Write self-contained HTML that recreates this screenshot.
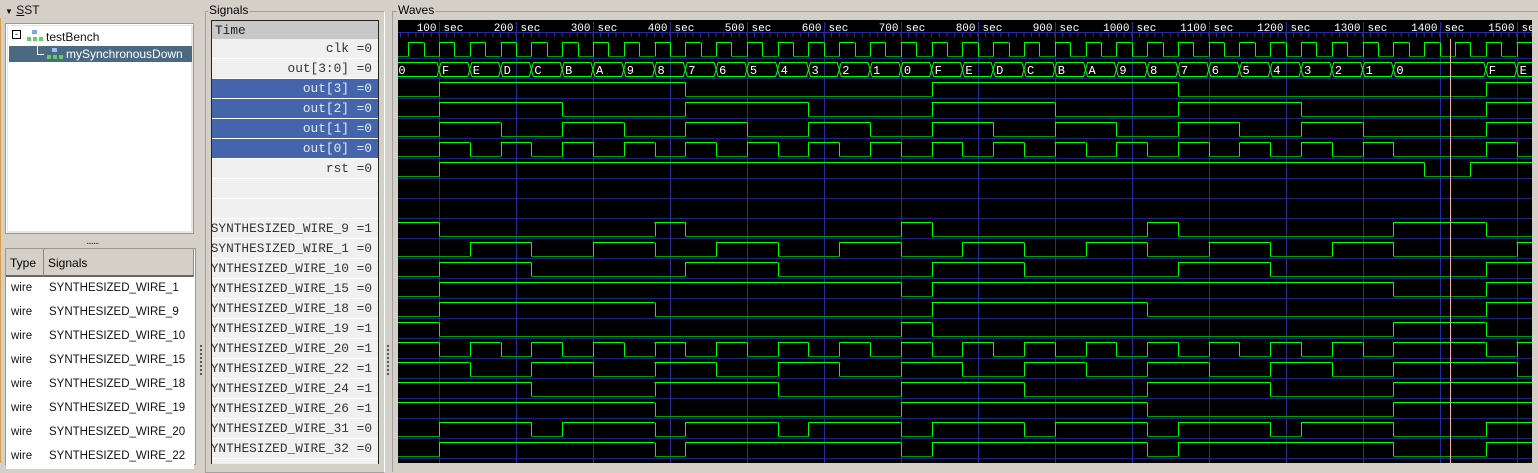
<!DOCTYPE html>
<html><head><meta charset="utf-8"><style>
body{margin:0;width:1538px;height:463px;overflow:hidden;background:#d4d0c8;position:relative;font-family:"Liberation Sans",sans-serif;}
.abs{position:absolute;}
.mono{font-family:"Liberation Mono",monospace;}
.sigrow{position:absolute;left:212px;width:166px;height:19px;background:#f0f0f0;border-bottom:1px solid #fff;overflow:hidden;}
.sigrow span{position:absolute;right:6px;top:2px;white-space:nowrap;font-family:"Liberation Mono",monospace;font-size:12.8px;color:#333;}
.sel{background:#4464ac;}
.sel span{color:#e4ecfa;}
.trow{position:absolute;left:6px;width:188px;height:24px;background:#fff;font-size:11.5px;color:#111;}
.trow .t{position:absolute;left:5px;top:5px;}
.trow .n{position:absolute;left:43px;top:5px;}
</style></head><body>
<div class="abs" style="left:0;top:18px;width:1px;height:445px;background:#d4a050"></div>
<div class="abs" style="left:5px;top:3px;font-size:12px;color:#111"><span style="font-size:8px">&#9660;</span>&nbsp;<u>S</u>ST</div>
<div class="abs" style="left:5px;top:23px;width:187px;height:209px;background:#fff;border:1px solid #9a9890;box-shadow:inset 1px 1px 0 #fff, inset 0 0 0 2px #e8e6e0"></div>
<div class="abs" style="left:12px;top:30px;width:7px;height:7px;border:1px solid #000;background:#fff;font-size:9px;line-height:6px;text-align:center">-</div>
<svg class="abs" style="left:26px;top:29px" width="18" height="32">
<rect x="6" y="1" width="5" height="4" fill="#7aa8e0"/><rect x="1" y="8" width="4" height="4" fill="#6c6"/><rect x="7" y="8" width="4" height="4" fill="#6c6"/><rect x="13" y="8" width="4" height="4" fill="#6c6"/>
</svg>
<div class="abs" style="left:46px;top:30px;font-size:12px;color:#111">testBench</div>
<div class="abs" style="left:9px;top:46px;width:183px;height:16px;background:#4b6983"></div>
<div class="abs" style="left:37px;top:42px;width:6px;height:12px;border-left:1px solid #fff;border-bottom:1px solid #fff"></div>
<svg class="abs" style="left:46px;top:47px" width="18" height="14">
<rect x="6" y="1" width="5" height="4" fill="#9cc0f0"/><rect x="1" y="8" width="4" height="4" fill="#6c6"/><rect x="7" y="8" width="4" height="4" fill="#6c6"/><rect x="13" y="8" width="4" height="4" fill="#6c6"/>
</svg>
<div class="abs" style="left:66px;top:47px;font-size:12px;color:#fff">mySynchronousDown</div>
<div class="abs" style="left:86px;top:236px;font-size:10px;letter-spacing:-1px;color:#333">.......</div>
<div class="abs" style="left:5px;top:248px;width:189px;height:215px;background:#fff;border:1px solid #9a9890"></div>
<div class="abs" style="left:6px;top:249px;width:37px;height:26px;background:#d4d0c8;border-right:1px solid #888;border-bottom:2px solid #666;font-size:12px"><span style="position:absolute;left:4px;top:7px">Type</span></div>
<div class="abs" style="left:44px;top:249px;width:149px;height:26px;background:#d4d0c8;border-bottom:2px solid #666;border-right:1px solid #888;font-size:12px"><span style="position:absolute;left:4px;top:7px">Signals</span></div>
<div id="tbl"></div>
<div class="abs" style="left:205px;top:11px;width:178px;height:460px;border:1px solid #a0a0a0;border-right-color:#fff;"></div>
<div class="abs" style="left:208px;top:3px;font-size:12px;background:#d4d0c8;padding:0 1px">Signals</div>
<div class="abs" style="left:211px;top:20px;width:166px;height:443px;background:#f0f0f0;border:1px solid #222;border-bottom:none"></div>
<div class="abs mono" style="left:212px;top:21px;width:166px;height:18px;background:#c8c8c8;font-size:12.8px;color:#222"><span style="position:absolute;left:3px;top:2px">Time</span></div>
<div id="sigs"></div>
<div class="abs" style="left:200px;top:345px;width:2px;height:30px;border-left:2px dotted #555"></div>
<div class="abs" style="left:387px;top:345px;width:2px;height:30px;border-left:2px dotted #555"></div>
<div class="abs" style="left:392px;top:11px;width:1150px;height:460px;border-top:1px solid #a0a0a0;border-left:1px solid #a0a0a0;"></div>
<div class="abs" style="left:397px;top:3px;font-size:12px;background:#d4d0c8;padding:0 1px">Waves</div>
<svg id="wv" class="abs" style="left:398px;top:20px" width="1134" height="443"></svg>
<script>
const tickLabels=[100,200,300,400,500,600,700,800,900,1000,1100,1200,1300,1400,1500];
const clkRise=[60,100,140,180,220,260,300,340,380,420,460,500,540,580,620,660,700,740,780,820,860,900,940,980,1020,1060,1100,1140,1180,1220,1260,1300,1340,1380,1420,1460,1500];
const clkFall=[80,120,160,200,240,280,320,360,400,440,480,520,560,600,640,680,720,760,800,840,880,920,960,1000,1040,1080,1120,1160,1200,1240,1280,1320,1360,1400,1440,1480,1520];
const busTimes=[0,100,140,180,220,260,300,340,380,420,460,500,540,580,620,660,700,740,780,820,860,900,940,980,1020,1060,1100,1140,1180,1220,1260,1300,1340,1460,1500];
const busValues=['0','F','E','D','C','B','A','9','8','7','6','5','4','3','2','1','0','F','E','D','C','B','A','9','8','7','6','5','4','3','2','1','0','F','E'];
const rstInit=0, rstToggles=[100,1380,1440];
const w9=[1,[100,380,420,700,740,1020,1060,1340,1460]];
const w1=[0,[140,220,300,380,460,540,620,700,780,860,940,1020,1100,1180,1260,1340,1500]];
const w10=[0,[100,220,420,540,740,860,1060,1180,1460]];
const w15=[0,[100,700,740,1340,1460]];
const w18=[0,[100,380,740,1020,1460]];
const w19=[1,[100,700,740,1340,1460]];
const w20=[1,[100,140,180,220,260,300,340,380,420,460,500,540,580,620,660,700,740,780,820,860,900,940,980,1020,1060,1100,1140,1180,1220,1260,1300,1340,1460,1500]];
const w22=[1,[140,220,300,380,460,540,620,700,780,860,940,1020,1100,1180,1260,1340,1500]];
const w24=[1,[220,380,540,700,860,1020,1180,1340]];
const w26=[1,[380,700,1020,1340]];
const w31=[0,[100,220,260,380,420,540,580,700,740,860,900,1020,1060,1180,1220,1340,1460]];
const w32=[0,[100,380,420,700,740,1020,1060,1340,1460]];
const cursorTime=1414;
const tStart=46, tEnd=1525;

const X=t=>362.03+0.7697*t;
const rowTop=r=>38+20*r;
const NS='http://www.w3.org/2000/svg';
const svg=document.getElementById('wv');
const g=document.createElementNS(NS,'g');g.setAttribute('transform','translate(-398,-20)');svg.appendChild(g);
function mk(tag,at,parent){const e=document.createElementNS(NS,tag);for(const k in at)e.setAttribute(k,at[k]);(parent||g).appendChild(e);return e;}
mk('rect',{x:398,y:20,width:1134,height:443,fill:'#000'});
for(let t=50;t<=1520;t+=10){const x=X(t);mk('line',{x1:x,y1:32,x2:x,y2:37,stroke:'#3030a0','stroke-width':1});}
mk('line',{x1:398,y1:32.5,x2:1532,y2:32.5,stroke:'#2a2a9a'});
for(let r=0;r<=21;r++){const y=rowTop(r)+20.5;const e=mk('line',{x1:398,y1:y,x2:1532,y2:y,stroke:'#202088'});
 
 }
tickLabels.forEach(v=>{const x=Math.round(X(v))+0.5;
 const l=mk('line',{x1:x,y1:22,x2:x,y2:463,stroke:'#2a2a9a'});
 
 
 const tx=mk('text',{x:x-3,y:31,fill:'#fff','font-family':'Liberation Mono, monospace','font-size':'11px','text-anchor':'end'});tx.textContent=String(v);
 
 
 const s=mk('text',{x:x+4,y:31,fill:'#fff','font-family':'Liberation Mono, monospace','font-size':'11px'});s.textContent='sec';
 
 
});
function digital(row,init,toggles,name){
 const top=rowTop(row),hi=top+4.5,lo=top+18.5;
 const grp=mk('g',{});
 
 
 let v=init,t0=tStart;const ts=toggles.filter(t=>t>tStart&&t<tEnd).concat([tEnd]);
 ts.forEach(t=>{
   mk('line',{x1:X(t0),y1:v?hi:lo,x2:X(t),y2:v?hi:lo,stroke:v?'#00ff00':'#00a000','stroke-width':1},grp);
   if(t<tEnd){mk('line',{x1:Math.round(X(t))+0.5,y1:hi,x2:Math.round(X(t))+0.5,y2:lo,stroke:'#00ff00'},grp);v=1-v;}
   t0=t;});
}
const clkT=clkRise.concat(clkFall).sort((a,b)=>a-b);
digital(0,0,clkT,'clk-wave');
(function(){const top=rowTop(1)+4.5,bot=top+14,mid=(top+bot)/2;
 const grp=mk('g',{});
 
 
 for(let i=0;i<busTimes.length;i++){
  const a=Math.max(busTimes[i],tStart),b=i+1<busTimes.length?busTimes[i+1]:tEnd;
  const xa=X(a),xb=X(b);const sa=busTimes[i]>tStart?2:0,sb=i+1<busTimes.length?2:0;
  mk('polygon',{points:`${xa},${mid} ${xa+sa},${top} ${xb-sb},${top} ${xb},${mid} ${xb-sb},${bot} ${xa+sa},${bot}`,fill:'none',stroke:'#00ff00','stroke-width':1},grp);
  const tx=mk('text',{x:xa+(sa?3:1),y:mid+4.5,fill:'#fff','font-family':'Liberation Mono, monospace','font-size':'12px'},grp);tx.textContent=busValues[i];
 }})();
[3,2,1,0].forEach((bit,k)=>{
 const vals=busValues.map(h=>(parseInt(h,16)>>bit)&1);
 const tog=[];for(let i=1;i<vals.length;i++)if(vals[i]!==vals[i-1])tog.push(busTimes[i]);
 digital(2+k,vals[0],tog,'out'+bit+'-wave');
});
digital(6,rstInit,rstToggles,'rst-wave');
const wires=[[w9,'9'],[w1,'1'],[w10,'10'],[w15,'15'],[w18,'18'],[w19,'19'],[w20,'20'],[w22,'22'],[w24,'24'],[w26,'26'],[w31,'31'],[w32,'32']];
wires.forEach((w,i)=>digital(9+i,w[0][0],w[0][1],'synthesized-wire-'+w[1]+'-wave'));
const cx=Math.round(X(cursorTime))+0.5;
const cur=mk('line',{x1:cx,y1:39,x2:cx,y2:463,stroke:'#f4b0b0'});



const sigNames=['clk =0','out[3:0] =0','out[3] =0','out[2] =0','out[1] =0','out[0] =0','rst =0','','','SYNTHESIZED_WIRE_9 =1','SYNTHESIZED_WIRE_1 =0','SYNTHESIZED_WIRE_10 =0','SYNTHESIZED_WIRE_15 =0','SYNTHESIZED_WIRE_18 =0','SYNTHESIZED_WIRE_19 =1','SYNTHESIZED_WIRE_20 =1','SYNTHESIZED_WIRE_22 =1','SYNTHESIZED_WIRE_24 =1','SYNTHESIZED_WIRE_26 =1','SYNTHESIZED_WIRE_31 =0','SYNTHESIZED_WIRE_32 =0'];
const sp=document.getElementById('sigs');
sigNames.forEach((n,i)=>{const d=document.createElement('div');d.className='sigrow'+(i>=2&&i<=5?' sel':'');
 d.style.top=(39+20*i)+'px';
 
 
 const s=document.createElement('span');s.textContent=n;d.appendChild(s);sp.appendChild(d);});
const tblNames=['SYNTHESIZED_WIRE_1','SYNTHESIZED_WIRE_9','SYNTHESIZED_WIRE_10','SYNTHESIZED_WIRE_15','SYNTHESIZED_WIRE_18','SYNTHESIZED_WIRE_19','SYNTHESIZED_WIRE_20','SYNTHESIZED_WIRE_22'];
const tb=document.getElementById('tbl');
tblNames.forEach((n,i)=>{const d=document.createElement('div');d.className='trow';d.style.top=(277+24*i)+'px';
 
 
 d.innerHTML='<span class="t">wire</span><span class="n">'+n+'</span>';tb.appendChild(d);});
</script>
</body></html>
